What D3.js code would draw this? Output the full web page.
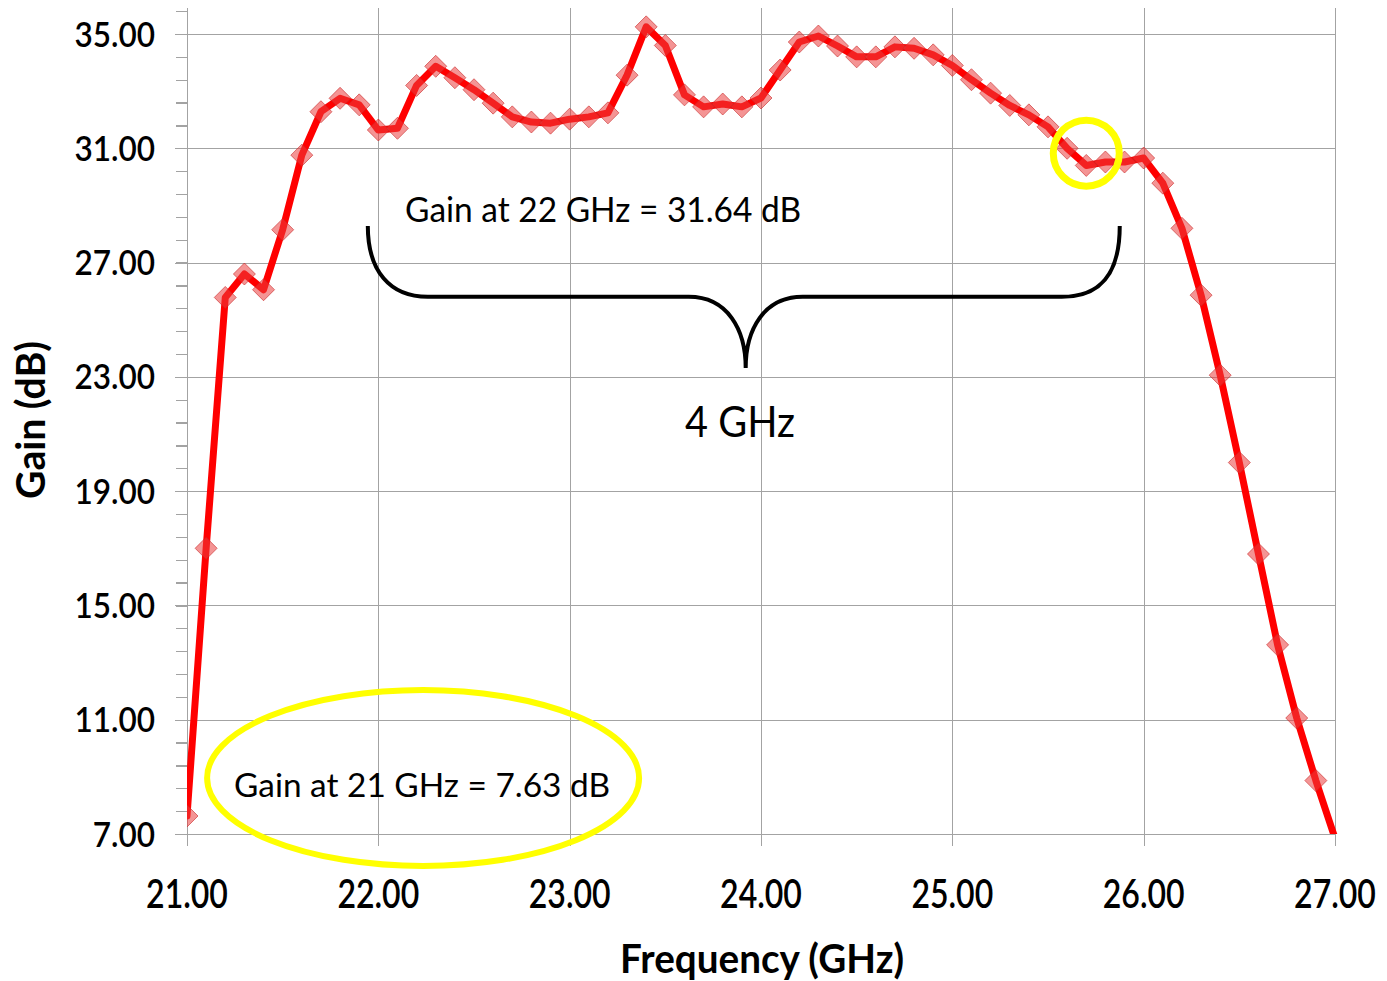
<!DOCTYPE html>
<html>
<head>
<meta charset="utf-8">
<script src="https://cdn.jsdelivr.net/npm/d3@7"></script>
<style>
  html, body { margin: 0; padding: 0; background: #fff; }
  svg { display: block; }
  text { font-family: Lato, "Open Sans", "Liberation Sans", sans-serif; fill: #000; }
</style>
</head>
<body>
<svg id="chart" width="1387" height="981"></svg>
<script>
// Measured amplifier gain versus frequency
const freqGHz = [
  21.0, 21.1, 21.2, 21.3, 21.4, 21.5, 21.6, 21.7, 21.8, 21.9,
  22.0, 22.1, 22.2, 22.3, 22.4, 22.5, 22.6, 22.7, 22.8, 22.9,
  23.0, 23.1, 23.2, 23.3, 23.4, 23.5, 23.6, 23.7, 23.8, 23.9,
  24.0, 24.1, 24.2, 24.3, 24.4, 24.5, 24.6, 24.7, 24.8, 24.9,
  25.0, 25.1, 25.2, 25.3, 25.4, 25.5, 25.6, 25.7, 25.8, 25.9,
  26.0, 26.1, 26.2, 26.3, 26.4, 26.5, 26.6, 26.7, 26.8, 26.9,
  27.0
];
const gainDb = [
  7.63, 17.00, 25.78, 26.60, 26.05, 28.15, 30.76, 32.28, 32.75, 32.52,
  31.64, 31.70, 33.20, 33.87, 33.47, 33.05, 32.58, 32.10, 31.92, 31.88,
  32.02, 32.10, 32.24, 33.56, 35.25, 34.60, 32.87, 32.45, 32.55, 32.45,
  32.76, 33.74, 34.72, 34.93, 34.58, 34.20, 34.20, 34.55, 34.50, 34.27,
  33.90, 33.40, 32.93, 32.50, 32.17, 31.75, 31.00, 30.40, 30.52, 30.52,
  30.66, 29.78, 28.20, 25.86, 23.06, 20.00, 16.80, 13.62, 11.06, 8.87,
  6.85
];
const xTicks = [21, 22, 23, 24, 25, 26, 27];
const yTicks = [7, 11, 15, 19, 23, 27, 31, 35];
const yMinorStep = 0.8;

const xTitle = "Frequency (GHz)";
const yTitle = "Gain (dB)";
const bandLabel = "4 GHz";
const markedFreqs = [21, 22];   // frequencies called out in the notes

const svg = d3.select("#chart");
const left = 187, right = 1335, bottom = 834;

const x = d3.scaleLinear().domain([21, 27]).range([left, right]);
const y = d3.scaleLinear().domain([7, 35.9]).range([bottom, 8.3]);

const gridColor = "#a3a3a3";

// shrink a text element horizontally to a fraction of its natural width
function condense(sel, factor) {
  sel.each(function () {
    const w = this.getComputedTextLength();
    d3.select(this).attr("textLength", w * factor).attr("lengthAdjust", "spacingAndGlyphs");
  });
}

// ---- grid ----
const grid = svg.append("g").attr("stroke", gridColor).attr("stroke-width", 1.3).attr("shape-rendering", "crispEdges");
grid.selectAll("line.h").data(yTicks).join("line")
  .attr("x1", left - 12).attr("x2", right)
  .attr("y1", d => Math.round(y(d)) + 0.5).attr("y2", d => Math.round(y(d)) + 0.5);
grid.selectAll("line.v").data(xTicks).join("line")
  .attr("y1", y.range()[1]).attr("y2", bottom + 12)
  .attr("x1", d => Math.round(x(d)) + 0.5).attr("x2", d => Math.round(x(d)) + 0.5);

// y axis with minor ticks
const minor = d3.range(7, 35.9, yMinorStep);
const yAxis = d3.axisLeft(y).tickValues(minor).tickSize(12).tickFormat("");
const yg = svg.append("g").attr("transform", `translate(${left + 0.5},0)`).call(yAxis);
yg.selectAll("path, line").attr("stroke", gridColor).attr("stroke-width", 1.3).attr("shape-rendering", "crispEdges");
yg.select(".domain").attr("d", `M0,${y.range()[1]}V${bottom}`);

// x axis line
svg.append("line").attr("x1", left).attr("x2", right)
  .attr("y1", Math.round(bottom) + 0.5).attr("y2", Math.round(bottom) + 0.5)
  .attr("stroke", gridColor).attr("stroke-width", 1.3).attr("shape-rendering", "crispEdges");

// tick labels
const fmt = d3.format(".2f");
svg.append("g").selectAll("text").data(yTicks).join("text")
  .attr("x", 155).attr("y", d => y(d) + 12.5)
  .attr("text-anchor", "end").attr("font-size", 35).attr("font-weight", 600)
  .text(fmt).call(condense, 0.9);
// frequency labels use a narrow horizontal scale
svg.append("g").selectAll("text").data(xTicks).join("text")
  .attr("transform", d => `translate(${x(d)},908) scale(0.8,1)`)
  .attr("text-anchor", "middle").attr("font-size", 40).attr("font-weight", 600)
  .text(fmt);

// axis titles
svg.append("text").attr("x", 762).attr("y", 973).attr("text-anchor", "middle")
  .attr("font-size", 41).attr("font-weight", 700).text(xTitle)
  .attr("textLength", 284).attr("lengthAdjust", "spacingAndGlyphs");
svg.append("text").attr("transform", "translate(45,420) rotate(-90)").attr("text-anchor", "middle")
  .attr("font-size", 40).attr("font-weight", 700).text(yTitle)
  .attr("textLength", 158).attr("lengthAdjust", "spacingAndGlyphs");

// ---- gain trace ----
const pts = freqGHz.map((f, i) => ({ f, g: gainDb[i] }));
svg.append("clipPath").attr("id", "plotClip")
  .append("rect").attr("x", left).attr("y", 0).attr("width", right - left + 4).attr("height", bottom);
const plot = svg.append("g").attr("clip-path", "url(#plotClip)");

plot.append("path").datum(pts)
  .attr("fill", "none").attr("stroke", "#ff0000").attr("stroke-width", 7)
  .attr("stroke-linejoin", "round").attr("stroke-linecap", "round")
  .attr("d", d3.line().x(d => x(d.f)).y(d => y(d.g)));

plot.selectAll("path.mk").data(pts.filter(d => d.g >= y.domain()[0])).join("path")
  .attr("class", "mk")
  .attr("transform", d => `translate(${x(d.f)},${y(d.g)})`)
  .attr("d", "M0,-11L11,0L0,11L-11,0Z")
  .attr("fill", "rgba(235,60,60,0.55)")
  .attr("stroke", "rgba(200,40,40,0.6)").attr("stroke-width", 1);

// ---- annotations ----
const gainAt = f => gainDb[freqGHz.findIndex(v => Math.abs(v - f) < 1e-9)];

// note for the upper band edge
svg.append("text").attr("x", x(22.14)).attr("y", y(28.42))
  .attr("font-size", 34).text(`Gain at ${markedFreqs[1]} GHz = ${fmt(gainAt(markedFreqs[1]))} dB`)
  .attr("textLength", 396).attr("lengthAdjust", "spacingAndGlyphs");

// curly brace spanning the usable band
const bx0 = x(21.945), bx1 = x(25.875), bxm = x(23.92);
const by0 = y(28.28), byh = y(25.8), byt = y(23.31);
const brace = d3.path();
brace.moveTo(bx0, by0);
brace.bezierCurveTo(bx0, by0 + 45, bx0 + 22, byh, bx0 + 60, byh);
brace.lineTo(bxm - 57, byh);
brace.bezierCurveTo(bxm - 18, byh, bxm, byh + 33, bxm, byt);
brace.bezierCurveTo(bxm, byh + 33, bxm + 18, byh, bxm + 57, byh);
brace.lineTo(bx1 - 58, byh);
brace.bezierCurveTo(bx1 - 20, byh, bx1, byh - 22, bx1, by0);
svg.append("path").attr("d", brace.toString())
  .attr("fill", "none").attr("stroke", "#000").attr("stroke-width", 4);

svg.append("text").attr("x", 740).attr("y", 437).attr("text-anchor", "middle")
  .attr("font-size", 43).text(bandLabel)
  .attr("textLength", 110).attr("lengthAdjust", "spacingAndGlyphs");

// highlight where the response leaves the flat region
svg.append("circle").attr("cx", x(25.70)).attr("cy", y(30.83)).attr("r", 33)
  .attr("fill", "none").attr("stroke", "#ffff00").attr("stroke-width", 7);

// note for the lower band edge
svg.append("ellipse").attr("cx", x(22.234)).attr("cy", y(8.96)).attr("rx", 216).attr("ry", 88)
  .attr("fill", "none").attr("stroke", "#ffff00").attr("stroke-width", 6);
svg.append("text").attr("x", 234).attr("y", 797)
  .attr("font-size", 33).text(`Gain at ${markedFreqs[0]} GHz = ${fmt(gainAt(markedFreqs[0]))} dB`)
  .attr("textLength", 376).attr("lengthAdjust", "spacingAndGlyphs");
</script>
</body>
</html>
